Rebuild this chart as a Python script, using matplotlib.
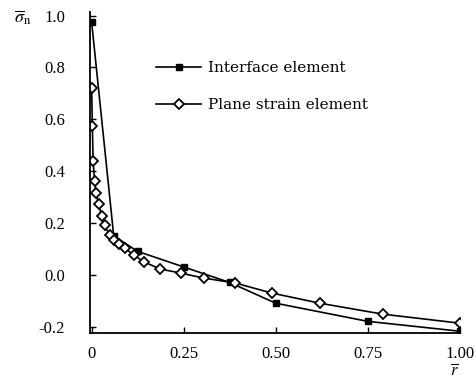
import matplotlib.pyplot as plt
import numpy as np

# interface element (filled squares)
r_int = [0.0, 0.06, 0.125, 0.25, 0.375, 0.5, 0.75, 1.0]
s_int = [0.975, 0.15, 0.09, 0.03, -0.03, -0.11, -0.18, -0.218]

# plane strain element (open diamonds)
r_ps = [0.0, 0.002, 0.004, 0.008, 0.012, 0.019, 0.027, 0.035, 0.049, 0.06,
        0.073, 0.09, 0.114, 0.143, 0.186, 0.243, 0.305, 0.39, 0.49, 0.62,
        0.79, 1.0]
s_ps = [0.72, 0.575, 0.44, 0.36, 0.315, 0.273, 0.226, 0.19, 0.153, 0.134,
        0.118, 0.103, 0.076, 0.049, 0.022, 0.006, -0.013, -0.032, -0.071,
        -0.11, -0.152, -0.187]

xticks = [0, 0.25, 0.5, 0.75, 1.0]
xlabels = ['0', '0.25', '0.50', '0.75', '1.00']
yticks = [-0.2, 0.0, 0.2, 0.4, 0.6, 0.8, 1.0]
ylabels = ['-0.2', '0.0', '0.2', '0.4', '0.6', '0.8', '1.0']

plt.rcParams['font.family'] = ['Liberation Serif', 'DejaVu Serif']
plt.rcParams['mathtext.fontset'] = 'stix'

fig = plt.figure(figsize=(4.77, 3.85), dpi=100)
ax = fig.add_axes([0.189, 0.135, 0.775, 0.834])

ax.plot(r_int, s_int, color='black', lw=1.2, marker='s', ms=5,
        mfc='black', mec='black', label='Interface element')
ax.plot(r_ps, s_ps, color='black', lw=1.2, marker='D', ms=4.8,
        mfc='white', mec='black', mew=1.3, label='Plane strain element')

ax.set_xlim(-0.004, 1.0)
ax.set_ylim(-0.225, 1.014)
ax.set_xticks(xticks)
ax.set_xticklabels(xlabels)
ax.set_yticks(yticks)
ax.set_yticklabels(ylabels)
ax.tick_params(direction='in', length=4, width=1, labelsize=12)
ax.tick_params(axis='x', pad=9)
ax.tick_params(axis='y', pad=18)
ax.spines['top'].set_visible(False)
ax.spines['right'].set_visible(False)
ax.spines['left'].set_linewidth(1.3)
ax.spines['bottom'].set_linewidth(1.3)

leg = ax.legend(loc='upper left', bbox_to_anchor=(0.14, 0.89), frameon=False,
                handlelength=3.0, labelspacing=1.5, handletextpad=0.4,
                prop={'family': 'DejaVu Serif', 'size': 11})

fig.text(0.03, 0.955, r'$\overline{\sigma}_{\rm n}$', fontsize=13, va='center')
fig.text(0.952, 0.035, r'$\overline{r}$', fontsize=12, ha='center', va='center')

fig.savefig('out.png', dpi=100)
